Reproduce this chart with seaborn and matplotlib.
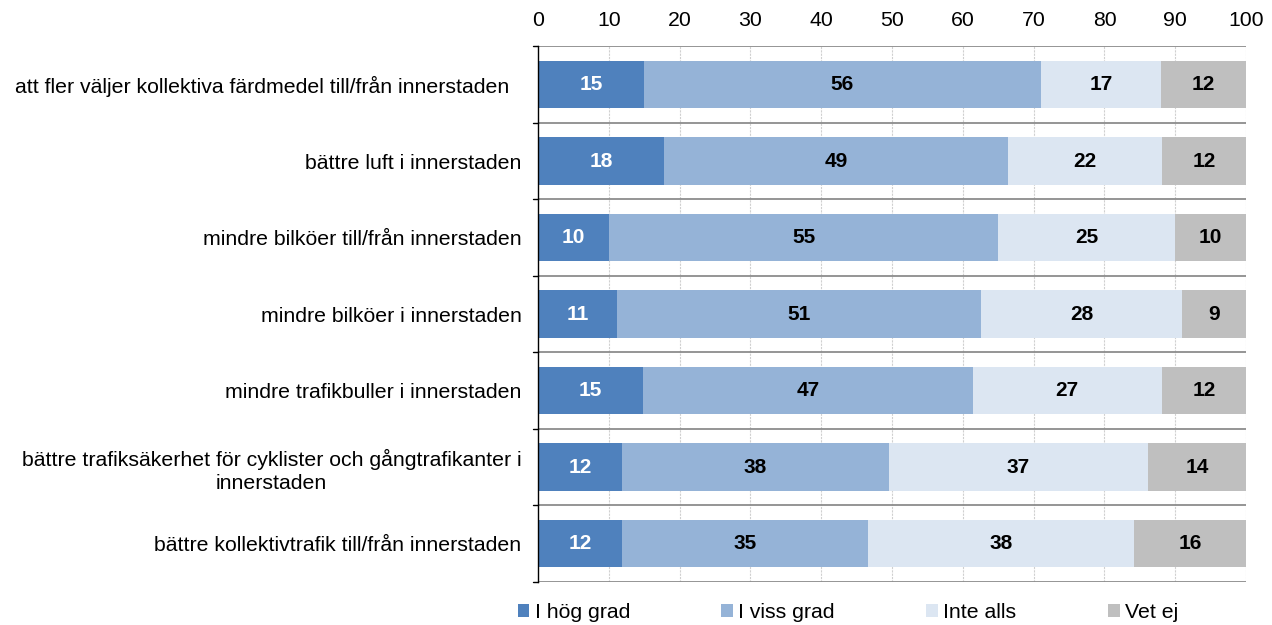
import numpy as np
import pandas as pd
import matplotlib
matplotlib.use("Agg")
import matplotlib.pyplot as plt
from matplotlib.patches import Patch
import seaborn as sns

categories = [
    "att fler väljer kollektiva färdmedel till/från innerstaden  ",
    "bättre luft i innerstaden",
    "mindre bilköer till/från innerstaden",
    "mindre bilköer i innerstaden",
    "mindre trafikbuller i innerstaden",
    "bättre trafiksäkerhet för cyklister och gångtrafikanter i\ninnerstaden",
    "bättre kollektivtrafik till/från innerstaden",
]
series_names = ["I hög grad", "I viss grad", "Inte alls", "Vet ej"]
hog_grad = [15, 18, 10, 11, 15, 12, 12]
viss_grad = [56, 49, 55, 51, 47, 38, 35]
inte_alls = [17, 22, 25, 28, 27, 37, 38]
vet_ej = [12, 12, 10, 9, 12, 14, 16]
x_ticks = [0, 10, 20, 30, 40, 50, 60, 70, 80, 90, 100]

colors = ["#4F81BD", "#95B3D7", "#DCE6F2", "#BFBFBF"]
label_colors = ["white", "black", "black", "black"]
FS = 15.3

sns.set_theme(style="white")
plt.rcParams["font.family"] = ["Liberation Sans", "DejaVu Sans"]
plt.rcParams["text.color"] = "black"
plt.rcParams["xtick.color"] = "black"
plt.rcParams["ytick.color"] = "black"

vals = np.array([hog_grad, viss_grad, inte_alls, vet_ej], dtype=float)
# 100 % stacked: each row normalised to its own total
shares = vals / vals.sum(axis=0) * 100
cum = np.cumsum(shares, axis=0)

fig = plt.figure(figsize=(12.72, 6.25), dpi=100)
ax = fig.add_axes([0.423, 0.069, 0.9796 - 0.423, 0.926 - 0.069])

# draw cumulative totals back to front so each segment shows its own share
for i in range(3, -1, -1):
    df = pd.DataFrame({"kategori": categories, "v": cum[i]})
    sns.barplot(data=df, x="v", y="kategori", orient="h", color=colors[i],
                saturation=1, width=0.62, edgecolor="none", ax=ax, zorder=3)

for i in range(4):
    starts = cum[i] - shares[i]
    for j in range(len(categories)):
        ax.text(starts[j] + shares[i][j] / 2, j, str(int(vals[i][j])),
                ha="center", va="center", fontsize=15, fontweight="bold",
                color=label_colors[i], zorder=5)

ax.set_xlim(0, 100)
ax.set_ylim(len(categories) - 0.5, -0.5)
ax.set_xlabel("")
ax.set_ylabel("")

ax.xaxis.tick_top()
ax.set_xticks(x_ticks)
ax.set_xticklabels([str(t) for t in x_ticks], fontsize=FS, color="black")
ax.tick_params(axis="x", length=0, pad=12, labelcolor="black")
ax.tick_params(axis="y", length=0, pad=12, labelsize=FS, labelcolor="black")
for lbl in ax.get_yticklabels():
    lbl.set_multialignment("center")
    lbl.set_linespacing(1.25)

# vertical dashed grid
for t in x_ticks[1:]:
    ax.axvline(t, color="#D0D0D0", lw=0.8, ls=(0, (2, 1)), zorder=1)
# horizontal separators between categories
bounds = np.arange(-0.5, len(categories), 1.0)
for b in bounds:
    ax.axhline(b, color="#8C8C8C", lw=1.3, zorder=2)
# small outward ticks on the left axis at the separators
for b in bounds:
    ax.plot([-0.7, 0], [b, b], color="black", lw=1, clip_on=False, zorder=6)

for s in ["top", "right", "bottom"]:
    ax.spines[s].set_visible(False)
ax.spines["left"].set_color("black")
ax.spines["left"].set_linewidth(1)
ax.spines["left"].set_zorder(6)

handles = [Patch(facecolor=c, edgecolor="none") for c in colors]
leg = fig.legend(handles, series_names, loc="lower left", bbox_to_anchor=(0.392, -0.026),
                 ncol=4, frameon=False, fontsize=FS, handlelength=0.55, handleheight=0.55,
                 handletextpad=0.25, columnspacing=4.3)
for t in leg.get_texts():
    t.set_color("black")

fig.savefig("out.png", dpi=100)
